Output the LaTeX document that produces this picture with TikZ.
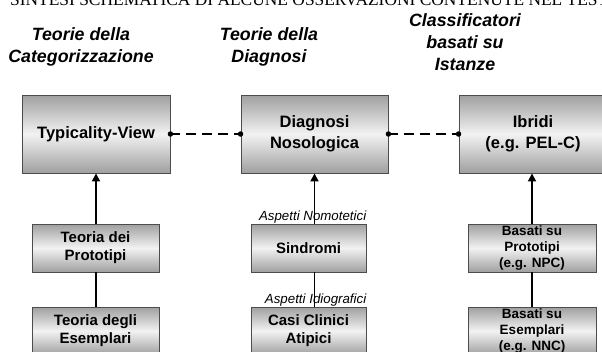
\documentclass[tikz,border=0pt]{standalone}
\usepackage{fontspec}
\setmainfont{Liberation Serif}
\setsansfont{Liberation Sans}
\usetikzlibrary{arrows.meta,calc}
\tikzset{
  boxbase/.style={rectangle, draw=black!70, line width=0.9pt, top color=gray!75, bottom color=gray!75, middle color=gray!10, align=center, inner sep=0pt, font=\sffamily\bfseries},
  topbox/.style={boxbase, minimum width=148pt, minimum height=78pt, font=\sffamily\bfseries\fontsize{16.5}{20.5}\selectfont},
  lowbox/.style={boxbase, minimum height=48pt, font=\sffamily\bfseries\fontsize{15}{18}\selectfont},
  smallbox/.style={boxbase, minimum height=48pt, font=\sffamily\bfseries\fontsize{13.5}{16}\selectfont},
  header/.style={align=center, font=\sffamily\bfseries\itshape\fontsize{17.8}{22}\selectfont},
  aspect/.style={font=\sffamily\itshape\fontsize{13.3}{15}\selectfont, inner sep=0pt},
  arr/.style={line width=1.8pt, -{Triangle[length=8pt,width=8pt]}},
  link/.style={line width=1.8pt},
  dashlink/.style={line width=2pt, dash pattern=on 10pt off 6pt},
  dot/.style={circle, fill=black, inner sep=0pt, minimum size=5.5pt}
}
\begin{document}
\begin{tikzpicture}[x=1pt,y=-1pt]
\useasboundingbox (0,0) rectangle (602,351);
\clip (0,0) rectangle (602,351);
% clipped page header
\node[anchor=base west, inner sep=0pt, font=\fontsize{17.4}{20}\selectfont] (title) at (10,5) {SINTESI SCHEMATICA DI ALCUNE OSSERVAZIONI CONTENUTE NEL TESTO};
% column headers
\node[header] (h1) at (81,47) {Teorie della\\Categorizzazione};
\node[header] (h2) at (269,47) {Teorie della\\Diagnosi};
\node[header] (h3) at (465,42) {Classificatori\\basati su\\Istanze};
% top boxes
\node[topbox] (tv) at (96,134) {Typicality-View};
\node[topbox, minimum width=147pt] (dn) at (314.5,134) {Diagnosi\\Nosologica};
\node[topbox] (ib) at (533,134) {Ibridi\\(e.g. PEL-C)};
% lower boxes
\node[lowbox, minimum width=127pt] (tp) at (95.5,248) {Teoria dei\\Prototipi};
\node[lowbox, minimum width=127pt] (te) at (95.5,331) {Teoria degli\\Esemplari};
\node[lowbox, minimum width=115pt] (sin) at (308.5,248) {Sindromi};
\node[lowbox, minimum width=115pt] (cca) at (308.5,331) {Casi Clinici\\Atipici};
\node[smallbox, minimum width=128pt] (bp) at (532,248) {Basati su\\Prototipi\\(e.g. NPC)};
\node[smallbox, minimum width=128pt] (be) at (532,331) {Basati su\\Esemplari\\(e.g. NNC)};
% aspect labels
\node[aspect, anchor=base east] (nom) at ($(sin.north east)+(0,-3)$) {Aspetti Nomotetici};
\node[aspect, anchor=base east] (idi) at ($(cca.north east)+(0,-3)$) {Aspetti Idiografici};
% dashed links
\draw[dashlink] (tv.east) -- (dn.west);
\draw[dashlink] (dn.east) -- (ib.west);
\node[dot] (d1) at (tv.east) {};
\node[dot] (d2) at (dn.west) {};
\node[dot] (d3) at (dn.east) {};
\node[dot] (d4) at (ib.west) {};
% arrows
\draw[arr] (tp.north -| tv.south) -- (tv.south);
\draw[arr] (sin.north -| dn.south) -- (dn.south);
\draw[arr] (bp.north) -- (bp.north |- ib.south);
% links between lower boxes
\draw[link] (te.north -| tv.south) -- (tp.south -| tv.south);
\draw[link] (cca.north -| dn.south) -- (sin.south -| dn.south);
\draw[link] (be.north) -- (bp.south);
\end{tikzpicture}
\end{document}
